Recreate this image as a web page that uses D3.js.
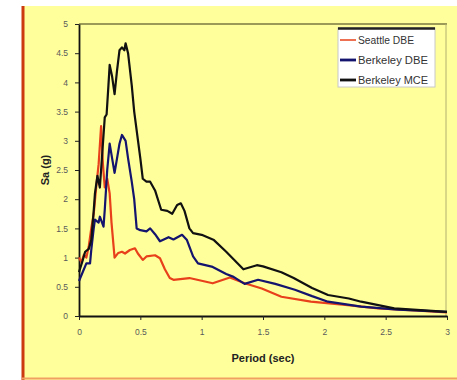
<!DOCTYPE html>
<html>
<head>
<meta charset="utf-8">
<script src="https://cdn.jsdelivr.net/npm/d3@7"></script>
<style>
  html, body { margin: 0; padding: 0; background: #ffffff; }
  svg { display: block; }
</style>
</head>
<body>
<svg id="chart" width="457" height="380"></svg>
<script>
// Response spectra: spectral acceleration Sa (g) vs period (sec)
const seriesNames = ["Seattle DBE", "Berkeley DBE", "Berkeley MCE"];
const seriesColors = ["#e8401a", "#14146e", "#111111"];

const xTicks = [0, 0.5, 1, 1.5, 2, 2.5, 3];
const yTicks = [0, 0.5, 1, 1.5, 2, 2.5, 3, 3.5, 4, 4.5, 5];

const seattlePeriod = [0, 0.02, 0.04, 0.06, 0.08, 0.1, 0.12, 0.14, 0.16, 0.18, 0.195, 0.21, 0.23, 0.25, 0.265, 0.29,
  0.32, 0.35, 0.375, 0.415, 0.456, 0.48, 0.52, 0.55, 0.62, 0.66, 0.7, 0.74, 0.77, 0.9, 1.09, 1.23, 1.35, 1.49, 1.65,
  1.89, 2.17, 2.44, 2.7, 3.0];
const seattleSa = [1.0, 0.92, 1.05, 1.0, 1.2, 1.5, 1.75, 2.2, 2.6, 3.25, 2.6, 2.2, 2.35, 2.1, 1.6, 1.0,
  1.08, 1.1, 1.07, 1.13, 1.16, 1.07, 0.96, 1.02, 1.04, 0.99, 0.8, 0.65, 0.62, 0.65, 0.56, 0.66, 0.56, 0.47, 0.33,
  0.245, 0.19, 0.13, 0.1, 0.06];

const berkDbePeriod = [0, 0.04, 0.06, 0.09, 0.1, 0.12, 0.13, 0.16, 0.17, 0.2, 0.21, 0.23, 0.25, 0.27, 0.29, 0.31, 0.33,
  0.35, 0.38, 0.4, 0.43, 0.45, 0.47, 0.5, 0.55, 0.58, 0.62, 0.66, 0.7, 0.73, 0.77, 0.84, 0.88, 0.93, 0.97, 1.09, 1.2,
  1.26, 1.35, 1.46, 1.6, 1.76, 1.9, 2.03, 2.3, 2.6, 3.0];
const berkDbeSa = [0.6, 0.8, 0.9, 0.9, 1.13, 1.5, 1.65, 1.6, 1.7, 1.53, 1.82, 2.5, 2.95, 2.7, 2.45, 2.7, 2.95,
  3.1, 3.0, 2.7, 2.3, 2.0, 1.5, 1.47, 1.45, 1.5, 1.4, 1.28, 1.32, 1.35, 1.31, 1.39, 1.3, 1.02, 0.9, 0.84, 0.72,
  0.67, 0.55, 0.62, 0.55, 0.45, 0.34, 0.245, 0.16, 0.11, 0.07];

const berkMcePeriod = [0, 0.03, 0.05, 0.08, 0.1, 0.12, 0.13, 0.15, 0.17, 0.19, 0.21, 0.225, 0.24, 0.25, 0.27, 0.29,
  0.31, 0.33, 0.35, 0.37, 0.38, 0.4, 0.43, 0.45, 0.5, 0.52, 0.55, 0.58, 0.62, 0.67, 0.72, 0.76, 0.8, 0.83, 0.86, 0.9,
  0.93, 1.0, 1.1, 1.2, 1.34, 1.45, 1.5, 1.65, 1.75, 1.9, 2.03, 2.2, 2.3, 2.57, 3.0];
const berkMceSa = [0.75, 0.95, 1.1, 1.15, 1.3, 1.8, 2.1, 2.4, 2.2, 2.8, 3.4, 3.45, 3.95, 4.3, 4.1, 3.8,
  4.2, 4.55, 4.6, 4.55, 4.67, 4.5, 3.95, 3.5, 2.7, 2.35, 2.3, 2.3, 2.15, 1.82, 1.8, 1.75, 1.9, 1.93, 1.8, 1.5,
  1.42, 1.39, 1.3, 1.1, 0.8, 0.87, 0.85, 0.75, 0.65, 0.48, 0.36, 0.3, 0.245, 0.13, 0.07];

const periods = [seattlePeriod, berkDbePeriod, berkMcePeriod];
const values = [seattleSa, berkDbeSa, berkMceSa];

const svg = d3.select("#chart");
const plot = { left: 79, right: 447, top: 24, bottom: 316 };

// Outer chart panel
svg.append("rect").attr("x", 22).attr("y", 6).attr("width", 440).attr("height", 380)
  .attr("fill", "#ffff9c");
svg.append("line").attr("x1", 23).attr("x2", 23).attr("y1", 6).attr("y2", 380)
  .attr("stroke", "#cc3a10").attr("stroke-width", 3);
svg.append("line").attr("x1", 22).attr("x2", 457).attr("y1", 378.5).attr("y2", 378.5)
  .attr("stroke", "#f0a060").attr("stroke-width", 2);

const x = d3.scaleLinear().domain([0, 3]).range([plot.left, plot.right]);
const y = d3.scaleLinear().domain([0, 5]).range([plot.bottom, plot.top]);

// Plot frame (top and right edges)
svg.append("line").attr("x1", plot.left).attr("x2", plot.right).attr("y1", plot.top).attr("y2", plot.top)
  .attr("stroke", "#7a7a40").attr("stroke-width", 1.4);
svg.append("line").attr("x1", plot.right - 1).attr("x2", plot.right - 1).attr("y1", plot.top).attr("y2", plot.bottom)
  .attr("stroke", "#b0b070").attr("stroke-width", 1);

const tickFont = "'Liberation Sans', Arial, sans-serif";

// Axes
const xAxis = svg.append("g").attr("transform", `translate(0,${plot.bottom})`)
  .call(d3.axisBottom(x).tickValues(xTicks).tickSize(4).tickSizeOuter(0).tickPadding(9)
    .tickFormat(d3.format("")));
const yAxis = svg.append("g").attr("transform", `translate(${plot.left},0)`)
  .call(d3.axisLeft(y).tickValues(yTicks).tickSize(4).tickSizeOuter(0).tickPadding(7)
    .tickFormat(d3.format("")));
[xAxis, yAxis].forEach(g => {
  g.select(".domain").attr("stroke", "#111").attr("stroke-width", 1.8);
  g.selectAll(".tick line").attr("stroke", "#222").attr("stroke-width", 1);
  g.selectAll(".tick text").attr("fill", "#5a5a5a").attr("font-size", 8.5).attr("font-family", tickFont);
});

// Spectra curves
const line = d3.line().x(d => x(d[0])).y(d => y(d[1]));
seriesNames.forEach((name, i) => {
  const pts = periods[i].map((p, k) => [p, values[i][k]]);
  svg.append("path").datum(pts)
    .attr("fill", "none")
    .attr("stroke", seriesColors[i])
    .attr("stroke-width", 2.2)
    .attr("stroke-linejoin", "round")
    .attr("d", line);
});

// Axis titles
svg.append("text").attr("transform", "translate(49,170) rotate(-90)")
  .attr("text-anchor", "middle").attr("font-size", 11).attr("font-weight", "bold")
  .attr("font-family", "'Liberation Sans', Arial, sans-serif").attr("fill", "#222").text("Sa (g)");
svg.append("text").attr("x", 263).attr("y", 362)
  .attr("text-anchor", "middle").attr("font-size", 11).attr("font-weight", "bold")
  .attr("font-family", "'Liberation Sans', Arial, sans-serif").attr("fill", "#222").text("Period (sec)");

// Legend
const legend = svg.append("g").attr("transform", "translate(338,28)");
legend.append("rect").attr("width", 97).attr("height", 59)
  .attr("fill", "#ffffff").attr("stroke", "#c8c8c8").attr("stroke-width", 1);
legend.append("line").attr("x1", 0).attr("x2", 97).attr("y1", 0.5).attr("y2", 0.5)
  .attr("stroke", "#222").attr("stroke-width", 2.4);
seriesNames.forEach((name, i) => {
  const ry = 12 + i * 20;
  legend.append("line").attr("x1", 2).attr("x2", 18).attr("y1", ry).attr("y2", ry)
    .attr("stroke", seriesColors[i]).attr("stroke-width", i === 0 ? 1.5 : 2.8);
  legend.append("text").attr("x", 20).attr("y", ry + 3.5)
    .attr("font-size", 10).attr("font-family", tickFont).attr("fill", "#333")
    .attr("textLength", i === 0 ? 56 : 70).attr("lengthAdjust", "spacingAndGlyphs").text(name);
});
</script>
</body>
</html>
